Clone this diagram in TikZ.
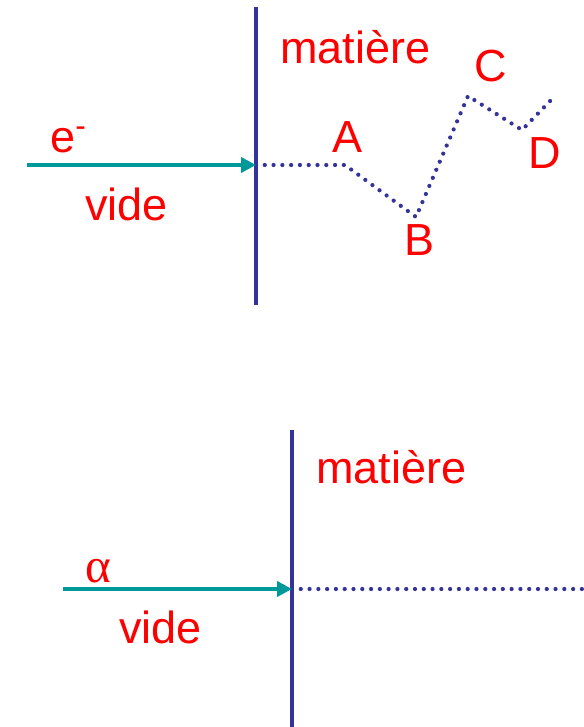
\documentclass[tikz,border=0pt]{standalone}
\usepackage{fontspec}
\setmainfont{Liberation Sans}
\newfontfamily\grkfont{Liberation Serif}
\usetikzlibrary{arrows.meta,positioning}
\definecolor{wallblue}{RGB}{51,51,153}
\definecolor{beamteal}{RGB}{0,153,153}
\definecolor{txtred}{RGB}{255,0,0}

\begin{document}
\begin{tikzpicture}[
  x=0.02cm, y=-0.02cm,
  txt/.style={inner sep=0pt, anchor=base west, text=txtred, font=\fontsize{25.6}{30}\selectfont},
  wall/.style={draw=wallblue, line width=2.8pt},
  beam/.style={draw=beamteal, line width=2.3pt, -{Triangle[length=0.3cm,width=0.3cm]}},
  track/.style={draw=wallblue, line width=2.4pt, line cap=round, dash pattern=on 0pt off 5pt}
]
  \useasboundingbox (0,0) rectangle (584,727);
  % electron
  \coordinate (wtop1) at (256,7);
  \coordinate (wbot1) at (256,305);
  \coordinate (src1) at (27,165);
  \coordinate (hit1) at (256,165);
  \coordinate (pA) at (345,165);
  \coordinate (pB) at (416,217);
  \coordinate (pC) at (468,96);
  \coordinate (pD) at (522,130);
  \coordinate (pE) at (553,98);
  \draw[track] (hit1) -- (pA) -- (pB) -- (pC) -- (pD) -- (pE);
  \draw[wall] (wtop1) -- (wbot1);
  \draw[beam] (src1) -- (hit1);
  \node[txt] (mat1) at (280,63) {matière};
  \node[txt] (elec) at (50,152) {e\textsuperscript{-}};
  \node[txt] (vide1) at (85,220) {vide};
  \node[txt] (labA) at (332,152) {A};
  \node[txt] (labB) at (404,255) {B};
  \node[txt] (labC) at (474,81) {C};
  \node[txt] (labD) at (528,168) {D};
  % alpha
  \coordinate (wtop2) at (292,430);
  \coordinate (wbot2) at (292,727);
  \coordinate (src2) at (63,589);
  \coordinate (hit2) at (292,589);
  \coordinate (pend) at (584,589);
  \draw[track] (hit2) -- (pend);
  \draw[wall] (wtop2) -- (wbot2);
  \draw[beam] (src2) -- (hit2);
  \node[txt] (mat2) at (316,483) {matière};
  \node[txt] (alph) at (85,582) {\grkfont\fontsize{28}{32}\selectfont α};
  \node[txt] (vide2) at (119,643) {vide};
\end{tikzpicture}
\end{document}
